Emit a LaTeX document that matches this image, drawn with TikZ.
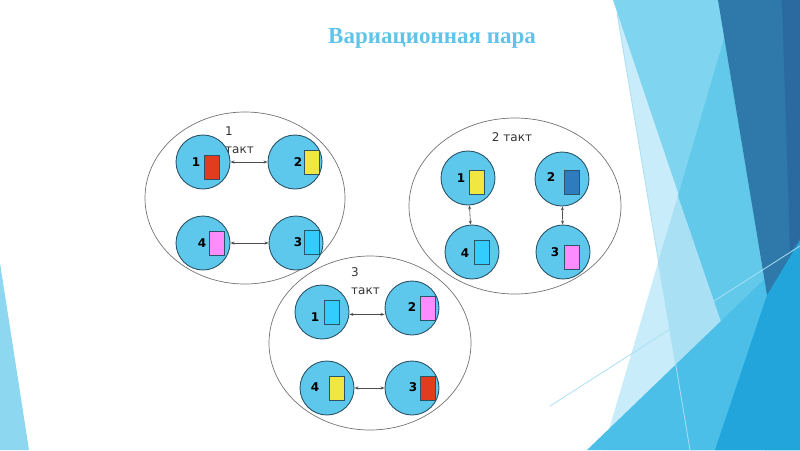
\documentclass[tikz,border=0pt]{standalone}
\usepackage{fontspec}
\setmainfont{Liberation Serif}
\newfontfamily\labfont{DejaVu Sans}
\usetikzlibrary{arrows.meta,shapes.geometric}
\definecolor{titleblue}{RGB}{96,196,234}
\definecolor{cellblue}{RGB}{93,200,236}
\definecolor{celledge}{RGB}{44,84,104}
\definecolor{cardred}{RGB}{226,60,30}
\definecolor{cardyel}{RGB}{240,232,64}
\definecolor{cardpink}{RGB}{255,140,255}
\definecolor{cardcyan}{RGB}{51,204,255}
\definecolor{carddark}{RGB}{46,123,190}
\definecolor{bgpale}{RGB}{200,236,249}
\definecolor{bgpaler}{RGB}{170,224,244}
\definecolor{bglight}{RGB}{127,212,239}
\definecolor{bgleft}{RGB}{141,215,240}
\definecolor{bgmid}{RGB}{98,201,234}
\definecolor{bgdeep}{RGB}{75,191,231}
\definecolor{bgsea}{RGB}{34,165,219}
\definecolor{bgdark}{RGB}{46,121,169}
\definecolor{bgnight}{RGB}{42,106,160}
\tikzset{
  cell/.style={circle,draw=celledge,fill=cellblue,line width=0.9pt,minimum size=54pt,inner sep=0pt},
  card/.style={draw=celledge,line width=0.9pt,minimum width=15pt,minimum height=24pt,inner sep=0pt},
  num/.style={font=\labfont\bfseries\fontsize{12}{12}\selectfont,inner sep=0pt},
  swap/.style={{Stealth[length=4pt,width=3pt]}-{Stealth[length=4pt,width=3pt]},draw=black!70,line width=0.6pt},
  ring/.style={ellipse,draw=black!55,line width=0.7pt,inner sep=0pt},
  tact/.style={font=\labfont\fontsize{12}{18}\selectfont,text=black!80,inner sep=0pt}
}
\begin{document}
\begin{tikzpicture}[x=1pt,y=-1pt]
  \useasboundingbox (0,0) rectangle (800,450);
  % background facets
  \fill[bgleft] (0,263) -- (29,450) -- (0,450) -- cycle;
  \fill[bgpale] (617,13) -- (640,0) -- (800,0) -- (800,450) -- (690,450) -- cycle;
  \fill[bgpale] (725,35) -- (800,450) -- (603,450) -- cycle;
  \fill[bgpaler] (658,262) -- (678,196) -- (765,450) -- (690,450) -- cycle;
  \fill[bglight] (613,0) -- (800,0) -- (800,450) -- (765,450) -- cycle;
  \fill[bgmid] (725,35) -- (800,0) -- (800,450) -- (765,450) -- (678,196) -- cycle;
  \fill[bgdeep] (587,450) -- (800,245) -- (800,450) -- cycle;
  \fill[bgsea] (767,295) -- (800,238) -- (800,450) -- (715,450) -- cycle;
  \fill[bgdark] (718,0) -- (800,0) -- (800,240) -- (767,295) -- cycle;
  \fill[bgnight] (782,0) -- (800,0) -- (800,238) -- (790,252) -- cycle;
  \draw[bgpaler,line width=0.8pt] (617,13) -- (690,450);
  \draw[bgpaler,line width=0.8pt] (550,406) -- (800,246);
  % title
  \node[font=\bfseries\fontsize{23}{23}\selectfont,text=titleblue] (title) at (432,38) {Вариационная пара};
  % three rounds
  \node[ring,minimum width=200pt,minimum height=172pt] (ring1) at (245,198) {};
  \node[ring,minimum width=212pt,minimum height=176pt] (ring2) at (515,206) {};
  \node[ring,minimum width=202pt,minimum height=174pt] (ring3) at (370,343) {};
  \node[tact,align=left,anchor=north west] (t1) at (225,127) {1\\такт};
  \node[tact] (t2) at (512,137) {2 такт};
  \node[tact,align=left,anchor=north west] (t3) at (351,267) {3\\такт};
  % cells: name/cell/card/number
  \foreach \nm/\cx/\cy/\rx/\ry/\nx/\ny/\lab/\col in {
      g1a/203/162/212/167/196/162/1/cardred,
      g1b/295/162/312/162/298/162/2/cardyel,
      g1c/296/243/312/242/298/242/3/cardcyan,
      g1d/203/243/217/243/202/243/4/cardpink,
      g2a/468/178/477/182/461/178/1/cardyel,
      g2b/562/179/572/182/551/177/2/carddark,
      g2c/563/252/572/257/555/252/3/cardpink,
      g2d/472/252/482/252/465/253/4/cardcyan,
      g3a/322/312/332/312/315/317/1/cardcyan,
      g3b/412/308/428/308/412/307/2/cardpink,
      g3c/412/388/428/388/413/387/3/cardred,
      g3d/327/388/337/388/315/387/4/cardyel}{
    \node[cell] (\nm) at (\cx,\cy) {};
    \node[card,fill=\col] (\nm-c) at (\rx,\ry) {};
    \node[num] (\nm-n) at (\nx,\ny) {\lab};
  }
  % exchanges
  \draw[swap] (g1a) -- (g1b);
  \draw[swap] (g1d) -- (g1c);
  \draw[swap] (g2a) -- (g2d);
  \draw[swap] (g2b) -- (g2c);
  \draw[swap] (g3a.-5) -- (g3b.west |- g3a.-5);
  \draw[swap] (g3d) -- (g3c);
\end{tikzpicture}
\end{document}
